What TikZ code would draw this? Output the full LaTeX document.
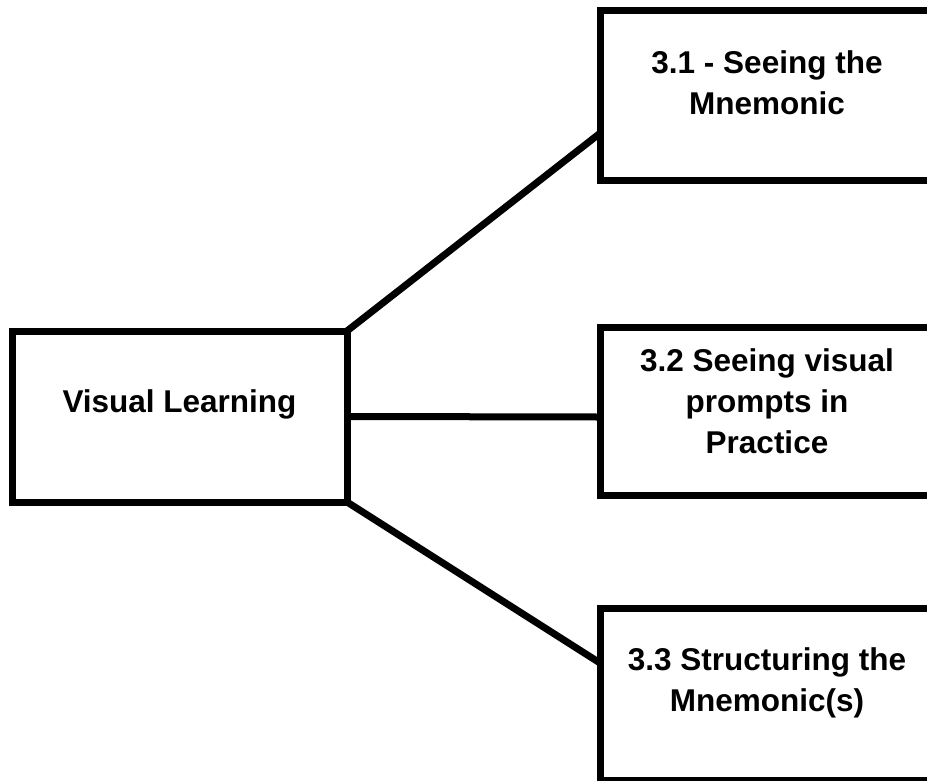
\documentclass[tikz,border=0pt]{standalone}
\usepackage{fontspec}
\setmainfont{Liberation Sans}
\begin{document}
\begin{tikzpicture}[x=1pt,y=-1pt,
  box/.style={draw=black, line width=7pt, inner sep=0pt, outer sep=0pt, minimum width=335pt},
  lbl/.style={font=\fontsize{31.5}{41}\selectfont\bfseries, align=center, inner sep=0pt},
  link/.style={draw=black, line width=7pt}]
\useasboundingbox (0,0) rectangle (927,780);

% root box
\node[box, minimum height=171pt] (vl) at (179.5,416.5) {};
\node[lbl, anchor=base] (tvl) at (179.5,412) {Visual Learning};

% branch boxes (running past the right edge)
\node[box, minimum width=334pt, minimum height=169.5pt] (s1) at (767,95.25) {};
\node[box, minimum width=334pt, minimum height=168pt] (s2) at (767,411) {};
\node[box, minimum width=334pt, minimum height=172pt] (s3) at (767,694) {};

\node[lbl, anchor=north] (t1) at (767,50) {3.1 - Seeing the\\Mnemonic};
\node[lbl, anchor=north] (t2) at (767,348) {3.2 Seeing visual\\prompts in\\Practice};
\node[lbl, anchor=north] (t3) at (767,647) {3.3 Structuring the\\Mnemonic(s)};

% connectors
\draw[link] (vl.north east) -- ([yshift=-38pt]s1.west);
\draw[link] (vl.east) -- ([yshift=-6pt]s2.west);
\draw[link] (vl.south east) -- ([yshift=31pt]s3.west);
\end{tikzpicture}
\end{document}
